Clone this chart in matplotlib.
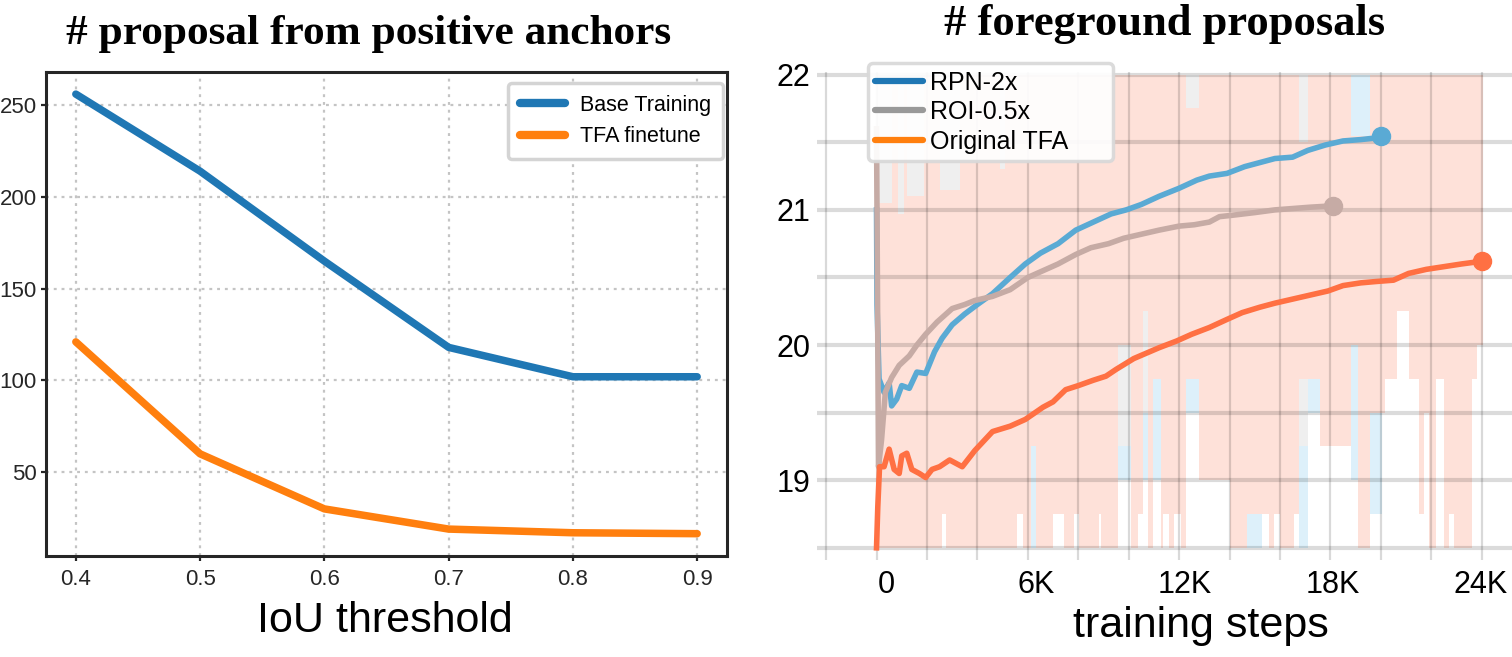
import numpy as np
import matplotlib
matplotlib.use("Agg")
import matplotlib.pyplot as plt
import matplotlib.transforms as mtransforms
from matplotlib.lines import Line2D

# ---------------- Left panel data ----------------
iou_thresholds = [0.4, 0.5, 0.6, 0.7, 0.8, 0.9]
base_training = [256, 214, 165, 118, 102, 102]
tfa_finetune = [121, 60, 30, 19, 17, 16.5]
left_yticks = [50, 100, 150, 200, 250]

# ---------------- Right panel data (steps in thousands) ----------------
rpn_steps = [0.0, 0.02, 0.1, 0.3, 0.5, 0.6, 0.8, 1.0, 1.3, 1.6, 1.95, 2.3, 2.6, 3.0,
             3.5, 4.0, 4.6, 5.3, 5.9, 6.5, 7.2, 7.9, 8.6, 9.3, 9.9, 10.5, 11.2, 12.0,
             12.7, 13.2, 13.9, 14.6, 15.2, 15.8, 16.5, 17.1, 17.8, 18.5, 19.2, 19.7, 20.0]
rpn_vals = [21.0, 20.3, 19.75, 19.65, 19.72, 19.55, 19.6, 19.7, 19.68, 19.8, 19.79, 19.95,
            20.05, 20.15, 20.23, 20.3, 20.38, 20.5, 20.6, 20.68, 20.75, 20.85, 20.91, 20.97,
            21.0, 21.04, 21.1, 21.16, 21.22, 21.25, 21.27, 21.32, 21.35, 21.38, 21.39, 21.44,
            21.48, 21.51, 21.52, 21.53, 21.55]

roi_steps = [0.0, 0.08, 0.2, 0.35, 0.6, 0.9, 1.3, 1.6, 1.95, 2.4, 3.0, 3.5, 3.9, 4.6, 5.3,
             6.0, 6.6, 7.2, 7.9, 8.5, 9.2, 9.8, 10.5, 11.2, 12.0, 12.6, 13.2, 13.6, 14.1,
             15.0, 15.8, 16.5, 17.2, 18.1]
roi_vals = [21.6, 19.1, 19.3, 19.65, 19.76, 19.85, 19.92, 20.0, 20.08, 20.17, 20.27, 20.3,
            20.33, 20.36, 20.41, 20.5, 20.55, 20.6, 20.67, 20.72, 20.75, 20.79, 20.82, 20.85,
            20.88, 20.89, 20.91, 20.95, 20.96, 20.98, 21.0, 21.01, 21.02, 21.03]

tfa_steps = [0.0, 0.05, 0.12, 0.3, 0.5, 0.7, 0.9, 1.0, 1.2, 1.4, 1.7, 1.95, 2.2, 2.5, 2.9,
             3.4, 3.9, 4.3, 4.6, 5.3, 5.9, 6.6, 7.0, 7.5, 8.0, 8.6, 9.1, 9.5, 10.2, 10.7,
             11.2, 11.9, 12.5, 13.2, 13.9, 14.5, 15.2, 15.8, 16.5, 17.2, 17.9, 18.5, 19.2,
             19.8, 20.5, 21.1, 21.8, 22.5, 23.2, 24.0]
tfa_vals = [18.5, 18.8, 19.1, 19.1, 19.23, 19.08, 19.05, 19.18, 19.2, 19.08, 19.05, 19.02,
            19.08, 19.1, 19.15, 19.1, 19.22, 19.3, 19.36, 19.4, 19.45, 19.54, 19.58, 19.67,
            19.7, 19.74, 19.77, 19.82, 19.9, 19.94, 19.98, 20.03, 20.08, 20.13, 20.19, 20.24,
            20.28, 20.31, 20.34, 20.37, 20.4, 20.44, 20.46, 20.47, 20.48, 20.53, 20.56, 20.58,
            20.6, 20.62]

# faint raw-value bands (segment start, low, high), last entry of *_edges closes the band
tfa_raw_edges = [0.0, 0.6, 0.85, 1.1, 1.2, 1.9, 2.5, 2.6, 2.75, 3.3, 4.9, 5.1, 5.59, 5.79,
                 6.12, 6.34, 6.98, 7.44, 7.84, 8.04, 8.83, 8.9, 9.56, 10.09, 10.35, 10.55,
                 10.75, 10.95, 11.28, 11.35, 11.61, 11.81, 12.08, 12.27, 12.8, 14.0, 14.7,
                 15.58, 15.78, 16.0, 16.57, 16.77, 17.1, 17.6, 18.8, 19.1, 19.55, 20.15,
                 20.65, 21.1, 21.5, 21.7, 21.9, 22.2, 22.5, 22.7, 22.9, 23.6, 23.8, 24.05]
tfa_raw_low = [18.5, 18.5, 18.5, 18.5, 18.5, 18.5, 18.5, 18.75, 18.5, 18.5, 18.5, 18.5, 18.75,
               18.5, 19.25, 18.5, 18.75, 18.5, 18.75, 18.5, 18.75, 18.5, 20.0, 18.5, 18.75,
               20.25, 18.5, 19.75, 18.5, 18.75, 18.5, 18.75, 18.5, 19.75, 19.0, 18.5, 18.75,
               18.5, 18.75, 18.5, 18.75, 19.75, 19.75, 19.25, 20.0, 18.5, 19.5, 19.75, 20.25,
               19.75, 18.75, 19.5, 18.5, 19.75, 18.5, 18.75, 18.5, 19.75, 20.0]
tfa_raw_high = [21.05, 22, 20.97, 22, 21.1, 22, 21.15, 21.15, 21.15, 22, 21.3, 22, 22, 22, 22,
                22, 22, 22, 22, 22, 22, 22, 22, 22, 22, 22, 22, 22, 22, 22, 22, 22, 22, 21.75,
                22, 22, 22, 22, 22, 22, 22, 21.5, 22, 22, 21.55, 21.55, 22, 22, 22, 22, 22, 22,
                22, 22, 22, 22, 22, 22, 22]

roi_raw_edges = [0.0, 7.0, 7.45, 10.55, 10.75, 10.95, 11.3, 12.27, 12.8, 17.1, 18.1]
roi_raw_low = [19.25, 18.75, 19.25, 19.5, 19.25, 19.75, 19.25, 19.75, 19.25, 19.75]

rpn_raw_edges = [0.0, 6.12, 6.34, 12.27, 12.8, 14.7, 15.3, 16.77, 17.1, 18.8, 19.1, 19.55, 20.05]
rpn_raw_low = [19.0, 18.5, 19.0, 19.5, 19.0, 18.5, 19.0, 18.5, 19.5, 19.0, 19.25, 18.75]

right_xtick_pos = [-2, 0, 2, 4, 6, 8, 10, 12, 14, 16, 18, 20, 22, 24]
right_xtick_labels = ["", "0", "", "", "6K", "", "", "12K", "", "", "18K", "", "", "24K"]
right_yticks = [19, 20, 21, 22]
right_minor_yticks = [18.5, 19.5, 20.5, 21.5]

SANS = ["Liberation Sans", "DejaVu Sans"]
SERIF = ["Liberation Serif", "DejaVu Serif"]
plt.rcParams["font.family"] = SANS

W, H = 1512, 657
fig = plt.figure(figsize=(W / 100, H / 100), dpi=100)

# ================= Left panel =================
ax1 = fig.add_axes([46 / W, 1 - 555.7 / H, 681 / W, (555.7 - 71.7) / H])
ax1.plot(iou_thresholds, base_training, color="#1f77b4", lw=5.4,
         solid_capstyle="round", solid_joinstyle="round", label="Base Training", zorder=3)
ax1.plot(iou_thresholds, tfa_finetune, color="#ff7f0e", lw=5.4,
         solid_capstyle="round", solid_joinstyle="round", label="TFA finetune", zorder=3)
ax1.set_xlim(0.376, 0.924)
ax1.set_ylim(4.5, 268.2)
ax1.set_xticks(iou_thresholds)
ax1.set_xticklabels([f"{v:.1f}" for v in iou_thresholds])
ax1.set_yticks(left_yticks)
ax1.grid(True, color="#c4c4c4", lw=1.6, linestyle=(0, (1.3, 2.2)))
ax1.set_axisbelow(True)
for s in ax1.spines.values():
    s.set_linewidth(2.2)
    s.set_color("#262626")
ax1.tick_params(axis="both", labelsize=16, colors="#262626", length=3.5, width=1.6, pad=3)
ax1.tick_params(axis="x", pad=6)
ax1.set_xlabel("IoU threshold", fontsize=31, color="black")
ax1.xaxis.set_label_coords((385 - 46) / 681, -0.094)
leg1 = ax1.legend(loc="upper right", bbox_to_anchor=(0.994, 0.977), borderaxespad=0,
                  fontsize=15.5, handlelength=2.1, handletextpad=0.7, labelspacing=0.5,
                  borderpad=0.55, fancybox=True, framealpha=1)
leg1.get_frame().set_edgecolor("#d4d4d4")
leg1.get_frame().set_linewidth(2.5)
for ln in leg1.get_lines():
    ln.set_linewidth(6)
    ln.set_solid_capstyle("round")

fig.text(369 / W, 1 - 34 / H, "# proposal from positive anchors", fontsize=31.2,
         fontweight="bold", family=SERIF, ha="center", va="center")

# ================= Right panel =================
ax2 = fig.add_axes([817 / W, 1 - 560 / H, 695 / W, (560 - 72) / H])

def raw_band(ax, edges, low, high, color):
    widths = np.diff(edges)
    starts = np.asarray(edges[:-1])
    low = np.asarray(low, dtype=float)
    high = np.asarray(high, dtype=float)
    ax.bar(starts, high - low, bottom=low, width=widths, align="edge",
           color=color, lw=0, zorder=1)

raw_band(ax2, rpn_raw_edges, rpn_raw_low, [22] * len(rpn_raw_low), "#ddf0fa")
raw_band(ax2, roi_raw_edges, roi_raw_low, [22] * len(roi_raw_low), "#efefef")
raw_band(ax2, tfa_raw_edges, tfa_raw_low, tfa_raw_high, "#fee1d9")

ax2.plot(rpn_steps, rpn_vals, color="#5aaad4", lw=4, zorder=3, solid_joinstyle="round")
ax2.plot(roi_steps, roi_vals, color="#c6aba5", lw=4, zorder=3, solid_joinstyle="round")
ax2.plot(tfa_steps, tfa_vals, color="#ff7043", lw=4, zorder=3, solid_joinstyle="round")
ax2.plot(rpn_steps[-1], rpn_vals[-1], "o", ms=13, color="#5aaad4", zorder=4)
ax2.plot(roi_steps[-1], roi_vals[-1], "o", ms=13, color="#c6aba5", zorder=4)
ax2.plot(tfa_steps[-1], tfa_vals[-1], "o", ms=13, color="#ff7043", zorder=4)

ax2.set_xlim(-2.36, 25.2)
ax2.set_ylim(18.41, 22.02)
ax2.set_xticks(right_xtick_pos)
ax2.set_xticklabels(right_xtick_labels)
ax2.set_yticks(right_yticks)
ax2.set_yticks(right_minor_yticks, minor=True)
for s in ax2.spines.values():
    s.set_visible(False)
ax2.tick_params(axis="both", which="both", length=0, labelsize=22, colors="black")
ax2.tick_params(axis="x", pad=7)
ax2.tick_params(axis="y", pad=5)
ax2.grid(True, axis="y", which="both", color="black", alpha=0.14, lw=3.0, zorder=2)
ax2.grid(True, axis="x", which="major", color="black", alpha=0.15, lw=1.6, zorder=2)
ax2.set_axisbelow("line")
label_shift_px = {"0": 10, "6K": 8, "12K": 6, "18K": 2, "24K": -1}
for lab, txt in zip(ax2.get_xticklabels(), right_xtick_labels):
    if txt:
        off = mtransforms.ScaledTranslation(label_shift_px[txt] / 100, 0, fig.dpi_scale_trans)
        lab.set_transform(lab.get_transform() + off)
ax2.set_xlabel("training steps", fontsize=31, color="black")
ax2.xaxis.set_label_coords((1201 - 817) / 695, -0.094)

handles = [Line2D([], [], color="#1f77b4", lw=4.5, solid_capstyle="round"),
           Line2D([], [], color="#999999", lw=4.5, solid_capstyle="round"),
           Line2D([], [], color="#ff7f0e", lw=4.5, solid_capstyle="round")]
leg2 = ax2.legend(handles, ["RPN-2x", "ROI-0.5x", "Original TFA"], loc="upper left",
                  bbox_to_anchor=(0.073, 0.5, (1113 - 868) / 695, 0.518), mode="expand",
                  borderaxespad=0, fontsize=18,
                  handlelength=1.9, handletextpad=0.3, labelspacing=0.22, borderpad=0.3,
                  fancybox=True, framealpha=0.92)
leg2.get_frame().set_edgecolor("#d8d8d8")
leg2.get_frame().set_linewidth(2.5)
leg2.set_zorder(10)

fig.text(1165 / W, 1 - 24 / H, "# foreground proposals", fontsize=32,
         fontweight="bold", family=SERIF, ha="center", va="center")

fig.savefig("out.png", dpi=100)
